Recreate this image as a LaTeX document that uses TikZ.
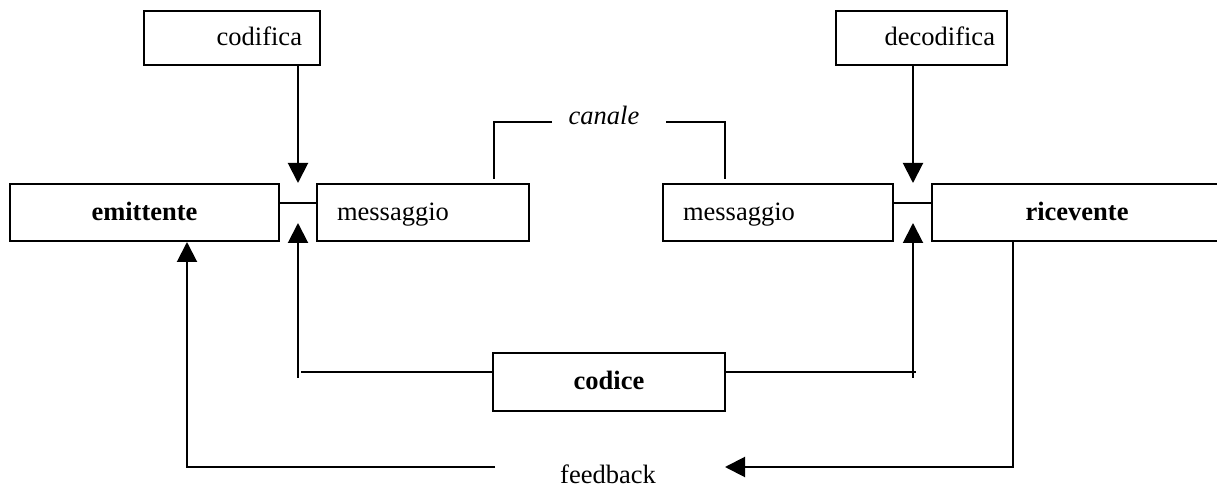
\documentclass[tikz,border=0pt]{standalone}
\usepackage{fontspec}
\setmainfont{Liberation Serif}
\usetikzlibrary{arrows.meta}

\begin{document}
\begin{tikzpicture}[x=.5pt,y=-.5pt,line width=1pt,
	box/.style={draw,inner sep=0pt,minimum height=28.5pt,text height=9pt,text depth=1pt,font=\fontsize{13.25}{16}\selectfont},
	lbl/.style={inner sep=0pt,font=\fontsize{13.25}{16}\selectfont},
	arr/.style={-{Triangle[length=10pt,width=10pt]}}]
			\clip (0,0) rectangle (1217,486);
			
			% boxes
			\node[box,minimum height=27pt,inner xsep=9pt,text width=70pt,align=right] (codifica) at (232,38) {codifica};
			\node[box,minimum height=27pt,inner xsep=6pt,text width=73.5pt,align=right] (decodifica) at (921.5,38) {decodifica};
			\node[box,minimum width=134.5pt] (emittente) at (144.5,212.5) {\bfseries emittente};
			\node[box,inner xsep=10pt,text width=86pt,align=left] (mess1) at (423,212.5) {messaggio};
			\node[box,inner xsep=10pt,text width=95pt,align=left] (mess2) at (778,212.5) {messaggio};
			\node[box,minimum width=145pt] (ricevente) at (1077,212.5) {\bfseries ricevente};
			\node[box,minimum width=116pt,minimum height=29pt] (codice) at (609,382) {\bfseries codice};
			\node[lbl] (canale) at (604,115) {\itshape canale};
			\node[lbl] (feedback) at (608,474) {feedback};
			
			% messaggio links
			\coordinate (cl) at (0,203);
			\draw (emittente.east |- cl) -- (mess1.west |- cl);
			\draw (mess2.east |- cl) -- (ricevente.west |- cl);
			
			% codifica / decodifica
			\coordinate (tl) at (298,183); \coordinate (tr) at (913,183);
			\draw[arr] (codifica.south -| tl) -- (tl);
			\draw[arr] (decodifica.south -| tr) -- (tr);
			
			% codice
			\coordinate (kc) at (0,372);
			\coordinate (kl) at (298,378); \coordinate (bl) at (298,223);
			\coordinate (kr) at (913,378); \coordinate (br) at (913,223);
			\draw (codice.west |- kc) -- ([xshift=1.5pt]kl |- kc);
			\draw (codice.east |- kc) -- ([xshift=1.5pt]kr |- kc);
			\draw[arr] (kl) -- (bl);
			\draw[arr] (kr) -- (br);
			
			% canale
			\coordinate (cl1) at (494,122); \coordinate (cl2) at (552,122);
			\coordinate (cr1) at (666,122); \coordinate (cr2) at (725,122);
			\draw (cl2) -- (cl1) -- ([yshift=2pt]mess1.north -| cl1);
			\draw (cr1) -- (cr2) -- ([yshift=2pt]mess2.north -| cr2);
			
			% feedback
			\coordinate (fl) at (495,467); \coordinate (fr) at (725,467);
			\coordinate (fe) at (187,0); \coordinate (fx) at (1013,0);
			\draw[arr] (fl) -| (emittente.south -| fe);
			\draw[arr] (ricevente.south -| fx) |- (fr);
\end{tikzpicture}
\end{document}
